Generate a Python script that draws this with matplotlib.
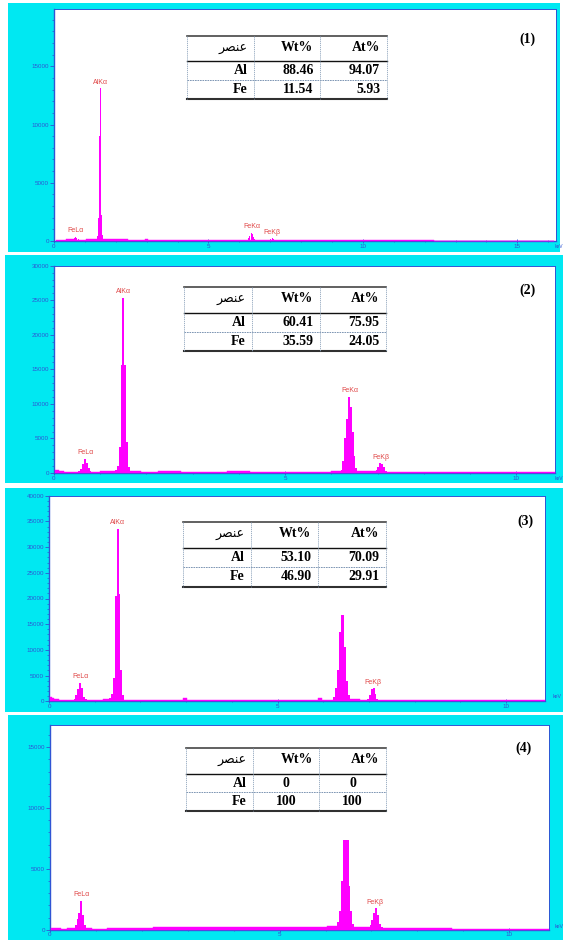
import matplotlib.pyplot as plt
from matplotlib.patches import Rectangle
from matplotlib.lines import Line2D
from matplotlib.ticker import MultipleLocator
import numpy as np

W, H = 563, 940

CYAN = '#00e8f2'
MAGENTA = '#ff00ff'
AXIS_BLUE = '#2f55d4'
PEAK_RED = '#e04848'

# ---- spectrum 1: background channels and peak channels (keV, counts)
bg1_e = [0.05, 0.3, 0.5, 0.9, 1.2, 1.8, 2.2, 2.6, 2.92, 3.0, 3.08, 3.4, 3.8, 4.2, 4.6, 5.0,
         5.4, 5.8, 6.1, 6.7, 7.3, 7.8, 8.4, 9.0, 9.6, 10.2, 10.8, 11.4, 12.0, 12.6, 13.2,
         13.8, 14.4, 15.0, 15.6, 16.2]
bg1_c = [120, 100, 130, 110, 150, 140, 130, 120, 120, 200, 120, 120, 110, 100, 110, 100,
         90, 100, 110, 90, 80, 80, 70, 70, 60, 60, 50, 50, 50, 40, 40, 40, 30, 30, 30, 30]
pk1_e = [0.62, 0.66, 0.70, 0.74, 0.78,
         1.40, 1.43, 1.46, 1.49, 1.52, 1.55, 1.58,
         6.30, 6.34, 6.38, 6.42, 6.46, 6.50,
         7.02, 7.06, 7.10]
pk1_c = [180, 280, 350, 260, 170,
         450, 2000, 9000, 13100, 8000, 2200, 500,
         250, 450, 700, 600, 380, 200,
         170, 220, 180]

# ---- spectrum 2
bg2_e = [0.03, 0.08, 0.15, 0.3, 0.45, 0.9, 1.1, 1.25, 1.75, 2.0, 2.5, 3.0, 3.5, 4.0, 4.5,
         5.0, 5.5, 5.9, 6.1, 6.7, 6.9, 7.3, 7.6, 8.0, 8.5, 9.0, 9.5, 10.0, 10.5, 10.84]
bg2_c = [500, 450, 250, 180, 200, 200, 220, 260, 230, 210, 220, 210, 200, 220, 200,
         190, 180, 200, 230, 260, 230, 190, 170, 160, 150, 140, 130, 120, 110, 100]
pk2_e = [0.55, 0.59, 0.63, 0.67, 0.71, 0.75, 0.79,
         1.34, 1.38, 1.42, 1.46, 1.50, 1.54, 1.58, 1.62,
         6.22, 6.26, 6.30, 6.34, 6.38, 6.42, 6.46, 6.50, 6.54,
         6.98, 7.02, 7.06, 7.10, 7.14, 7.18]
pk2_c = [300, 600, 1300, 2050, 1500, 700, 300,
         500, 1000, 3700, 15600, 25300, 15700, 4500, 800,
         500, 1800, 5000, 7800, 11000, 9500, 6000, 2400, 700,
         400, 900, 1400, 1300, 800, 300]

# ---- spectrum 3
bg3_e = [0.03, 0.08, 0.15, 0.3, 0.45, 0.9, 1.1, 1.25, 1.75, 2.0, 2.5, 2.9, 2.97, 3.05, 3.5,
         4.0, 4.5, 5.0, 5.5, 5.86, 5.93, 6.0, 6.1, 6.7, 6.9, 7.3, 7.6, 8.0, 8.5, 9.0, 9.5,
         10.0, 10.5, 10.85]
bg3_c = [800, 700, 400, 300, 280, 300, 320, 400, 350, 330, 340, 340, 600, 340, 330,
         320, 310, 300, 300, 300, 550, 300, 350, 380, 300, 280, 250, 230, 220, 200, 190,
         180, 170, 160]
pk3_e = [0.56, 0.60, 0.64, 0.68, 0.72, 0.76, 0.80,
         1.34, 1.38, 1.42, 1.46, 1.50, 1.54, 1.58, 1.62,
         6.24, 6.28, 6.32, 6.36, 6.40, 6.44, 6.48, 6.52, 6.56,
         6.98, 7.02, 7.06, 7.10, 7.14, 7.18]
pk3_c = [400, 1200, 2400, 3600, 2500, 900, 400,
         700, 1500, 4600, 20500, 33500, 20800, 6000, 1200,
         800, 2500, 6000, 13500, 16800, 16700, 10500, 4000, 1200,
         500, 1200, 2300, 2500, 1500, 500]

# ---- spectrum 4
bg4_e = [0.03, 0.1, 0.2, 0.3, 0.45, 0.85, 1.0, 1.5, 2.0, 2.5, 3.0, 3.5, 4.0, 4.5, 5.0,
         5.5, 5.9, 6.15, 6.75, 6.9, 7.35, 7.6, 8.0, 8.5, 9.0, 9.5, 10.0, 10.5, 10.86]
bg4_c = [150, 100, 120, 80, 100, 150, 80, 130, 180, 200, 220, 230, 220, 210, 200,
         190, 230, 280, 250, 230, 170, 130, 110, 100, 90, 80, 80, 70, 70]
pk4_e = [0.56, 0.60, 0.64, 0.68, 0.72, 0.76,
         6.28, 6.32, 6.36, 6.40, 6.44, 6.48, 6.52, 6.56, 6.60,
         6.98, 7.02, 7.06, 7.10, 7.14, 7.18, 7.22]
pk4_c = [400, 900, 1400, 2350, 1200, 400,
         600, 1500, 4000, 7350, 7350, 7350, 3600, 1500, 500,
         400, 800, 1400, 1750, 1200, 500, 250]

# line markers written above the peaks (name, keV)
lines1 = [('FeLα', 0.70), ('AlKα', 1.49), ('FeKα', 6.40), ('FeKβ', 7.06)]
lines2 = [('FeLα', 0.69), ('AlKα', 1.50), ('FeKα', 6.40), ('FeKβ', 7.08)]
lines3 = [('FeLα', 0.68), ('AlKα', 1.50), ('FeKβ', 7.08)]
lines4 = [('FeLα', 0.68), ('FeKβ', 7.08)]

# composition tables
tbl_header = ['عنصر', 'Wt%', 'At%']
elements = ['Al', 'Fe']
wt_pct = [['88.46', '11.54'], ['60.41', '35.59'], ['53.10', '46.90'], ['0', '100']]
at_pct = [['94.07', '5.93'], ['75.95', '24.05'], ['70.09', '29.91'], ['0', '100']]
panel_tags = ['(1)', '(2)', '(3)', '(4)']

x_max = [16.25, 10.84, 10.85, 10.86]
y_max = [19900, 30000, 40000, 16860]

# ---- layout in pixels
cyan_box = [(8, 3, 560, 252), (5, 255, 563, 483), (5, 488, 563, 712), (8, 715, 563, 940)]
ax_box = [(54, 9.3, 556, 241), (54, 265.7, 555, 473), (49, 495.7, 545, 701.3),
          (50, 724.7, 548.7, 929.7)]
tbl_x = [(186.7, 254, 320, 386.7), (184, 252, 320, 386), (183, 251, 318, 385.7),
         (185.7, 253.3, 319.3, 386)]
tbl_y = [(35.7, 61.3, 80, 99), (287.3, 313.3, 332, 351), (521.7, 548.3, 567.3, 586.7),
         (748, 774.3, 792.3, 811)]
tag_xy = [(527, 39.3), (527, 290.7), (525, 521.7), (524, 748.7)]
kev_xy = [(554.5, 246), (554.5, 478), (553, 697), (555, 926)]
kev_size = [3.5, 3.5, 3.8, 3.8]
val_align = ['right', 'right', 'right', 'center']
bin_w = [0.034, 0.042, 0.042, 0.042]

bg_e = [bg1_e, bg2_e, bg3_e, bg4_e]
bg_c = [bg1_c, bg2_c, bg3_c, bg4_c]
pk_e = [pk1_e, pk2_e, pk3_e, pk4_e]
pk_c = [pk1_c, pk2_c, pk3_c, pk4_c]
peak_lines = [lines1, lines2, lines3, lines4]

# presentation forms (initial, medial, final) for the Arabic header
AR_FORMS = {'ع': ('\ufecb', '\ufecc', '\ufeca'),
            'ن': ('\ufee7', '\ufee8', '\ufee6'),
            'ص': ('\ufebb', '\ufebc', '\ufeba'),
            'ر': ('\ufead', '\ufeae', '\ufeae')}


def shape_ar(word):
    if not any(ch in AR_FORMS for ch in word):
        return word
    out = []
    for i, ch in enumerate(word):
        ini, med, fin = AR_FORMS[ch]
        out.append(ini if i == 0 else fin if i == len(word) - 1 else med)
    return ''.join(reversed(out))


def fx(x):
    return x / W


def fy(y):
    return 1 - y / H


fig = plt.figure(figsize=(W / 100, H / 100), dpi=100)
fig.patch.set_facecolor('white')


def draw_panel(k):
    x0, y0, x1, y1 = cyan_box[k]
    fig.add_artist(Rectangle((fx(x0), fy(y1)), (x1 - x0) / W, (y1 - y0) / H,
                             transform=fig.transFigure, color=CYAN, lw=0, zorder=0))

    l, t, r, b = ax_box[k]
    ax = fig.add_axes([fx(l), fy(b), (r - l) / W, (b - t) / H])
    ax.set_facecolor('white')
    ax.fill_between(bg_e[k], bg_c[k], step='mid', color=MAGENTA, lw=0.3, zorder=3)
    ax.bar(pk_e[k], pk_c[k], width=bin_w[k], color=MAGENTA, lw=0, zorder=3)
    ax.set_xlim(0, x_max[k])
    ax.set_ylim(0, y_max[k])

    e = np.array(pk_e[k])
    c = np.array(pk_c[k])
    for name, en in peak_lines[k]:
        top = c[np.abs(e - en) < 0.15].max()
        ax.annotate(name, xy=(en, top), xytext=(0, 2), textcoords='offset points',
                    ha='center', va='bottom', fontsize=5, color=PEAK_RED,
                    family='Liberation Sans', zorder=4)

    ax.xaxis.set_major_locator(MultipleLocator(5))
    ax.xaxis.set_minor_locator(MultipleLocator(1))
    ax.yaxis.set_major_locator(MultipleLocator(5000))
    ax.yaxis.set_minor_locator(MultipleLocator(1000))
    ax.tick_params(which='major', length=3, width=0.6, color=AXIS_BLUE,
                   labelsize=4.5, labelcolor=AXIS_BLUE, pad=0.5)
    ax.tick_params(which='minor', length=1.5, width=0.5, color=AXIS_BLUE)
    ax.tick_params(axis='x', which='both', direction='inout')
    for lab in ax.get_xticklabels() + ax.get_yticklabels():
        lab.set_family('Liberation Sans')
    for side, sp in ax.spines.items():
        sp.set_color(AXIS_BLUE)
        sp.set_linewidth(1.0 if side in ('left', 'bottom') else 0.7)

    fig.text(fx(kev_xy[k][0]), fy(kev_xy[k][1]), 'keV', fontsize=kev_size[k],
             color=AXIS_BLUE, family='Liberation Sans', ha='left', va='center')
    fig.text(fx(tag_xy[k][0]), fy(tag_xy[k][1]), panel_tags[k], fontsize=10,
             family='Liberation Serif', weight='bold', ha='center', va='center')


def draw_table(k):
    xs = tbl_x[k]
    ys = tbl_y[k]

    def hline(y, **kw):
        fig.add_artist(Line2D([fx(xs[0]), fx(xs[3])], [fy(y), fy(y)], **kw))

    hline(ys[0], color='#454545', lw=1.2)
    hline(ys[1], color='#111111', lw=1.0)
    hline(ys[2], color='#6a86a8', lw=0.6, ls=(0, (2, 1)))
    hline(ys[3], color='#303030', lw=1.5)
    for x in xs:
        fig.add_artist(Line2D([fx(x), fx(x)], [fy(ys[0]), fy(ys[3])],
                              color='#8ea4bc', lw=0.6, ls=(0, (1.5, 1))))

    pad = 6.5
    hy = ys[0] + 0.45 * (ys[1] - ys[0])
    for j, txt in enumerate(tbl_header):
        if j == 0:
            fig.text(fx(xs[1] - pad), fy(hy + 1), shape_ar(txt), fontsize=9,
                     family='DejaVu Sans', ha='right', va='center')
        else:
            fig.text(fx(xs[j + 1] - pad), fy(hy), txt, fontsize=10,
                     family='Liberation Serif', weight='bold', ha='right', va='center')

    for i, el in enumerate(elements):
        ry = 0.5 * (ys[i + 1] + ys[i + 2])
        fig.text(fx(xs[1] - pad), fy(ry), el, fontsize=10, family='Liberation Serif',
                 weight='bold', ha='right', va='center')
        for j, val in enumerate([wt_pct[k][i], at_pct[k][i]]):
            if val_align[k] == 'center':
                vx = 0.5 * (xs[j + 1] + xs[j + 2])
            else:
                vx = xs[j + 2] - pad
            fig.text(fx(vx), fy(ry), val, fontsize=10, family='Liberation Serif',
                     weight='bold', ha=val_align[k], va='center')


for k in range(4):
    draw_panel(k)
    draw_table(k)

fig.savefig('out.png', dpi=100, facecolor=fig.get_facecolor())
